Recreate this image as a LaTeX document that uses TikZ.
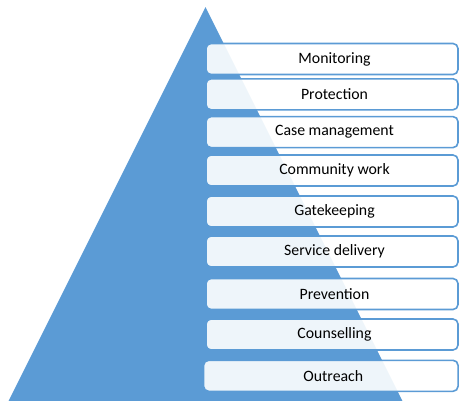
\documentclass[tikz,border=0pt]{standalone}
\usepackage{fontspec}
\setmainfont{Carlito}
\begin{document}
\begin{tikzpicture}[x=1pt,y=-1pt,
  tier/.style={draw=pyblue, line width=1.6pt, fill=white, fill opacity=0.9,
    text opacity=1, rounded corners=5pt, minimum height=31pt,
    inner sep=0pt, font=\fontsize{15.8}{18}\selectfont, text=black,
    execute at begin node={\hspace*{5pt}}}]
\definecolor{pyblue}{HTML}{5B9BD5}
\useasboundingbox (0,0) rectangle (459,400);
\clip (0,0) rectangle (459,400);
% the pyramid
\fill[pyblue] (205.5,7) -- (412,420) -- (-1,420) -- cycle;
% the tiers, top to bottom
\node[tier, minimum width=252pt] (mon) at (332,59)    {Monitoring};
\node[tier, minimum width=252pt] (pro) at (332,94.3)  {Protection};
\node[tier, minimum width=252pt] (cas) at (332,132.1) {Case management};
\node[tier, minimum width=252pt] (com) at (332,170.5) {Community work};
\node[tier, minimum width=252pt] (gat) at (332,211.5) {Gatekeeping};
\node[tier, minimum width=252pt] (ser) at (332,251.5) {Service delivery};
\node[tier, minimum width=252pt] (pre) at (332,294)   {Prevention};
\node[tier, minimum width=252pt] (cou) at (332,334.5) {Counselling};
\node[tier, minimum width=254.5pt] (out) at (330.8,375.8) {Outreach};
\end{tikzpicture}
\end{document}
